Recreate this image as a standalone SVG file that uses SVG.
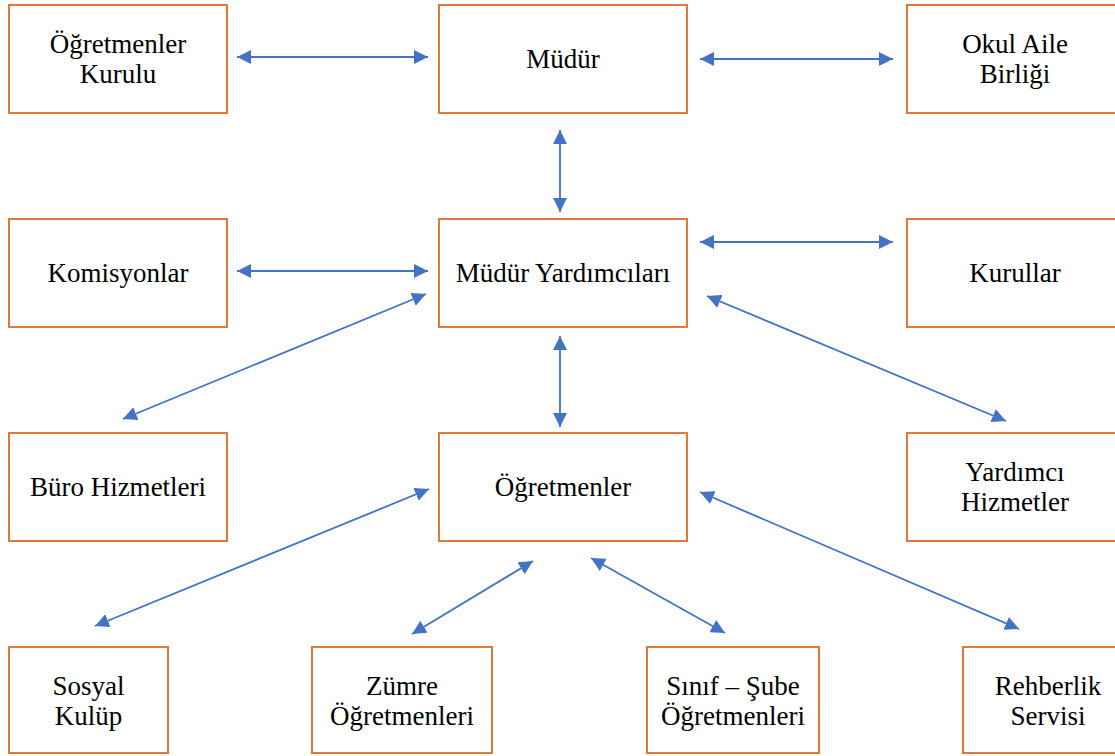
<svg xmlns="http://www.w3.org/2000/svg" width="1115" height="756" viewBox="0 0 1115 756">
<style>
.box{fill:#FFFFFF;stroke:#E0793A;stroke-width:2}
.t{font-family:'Liberation Serif','Times New Roman',serif;font-size:27px;fill:#000000;text-anchor:middle}
.c{stroke:#4472C4;stroke-width:1.8;fill:none;marker-start:url(#ah);marker-end:url(#ah)}
</style>
<defs>
<marker id="ah" viewBox="0 0 14 14" refX="14" refY="7" markerWidth="14" markerHeight="14" markerUnits="userSpaceOnUse" orient="auto-start-reverse">
<path d="M0,0 L14,7 L0,14 z" fill="#4472C4"/>
</marker>
</defs>
<rect width="1115" height="756" fill="#FFFFFF"/>
<g id="ogretmenler-kurulu"><rect class="box" x="9" y="5" width="218" height="108"/><text class="t" x="118" y="53">Öğretmenler</text><text class="t" x="118" y="83">Kurulu</text></g>
<g id="mudur"><rect class="box" x="439" y="5" width="248" height="108"/><text class="t" x="563" y="68">Müdür</text></g>
<g id="okul-aile-birligi"><rect class="box" x="907" y="5" width="216" height="108"/><text class="t" x="1015" y="53">Okul Aile</text><text class="t" x="1015" y="83">Birliği</text></g>

<g id="komisyonlar"><rect class="box" x="9" y="219" width="218" height="108"/><text class="t" x="118" y="282">Komisyonlar</text></g>
<g id="mudur-yardimcilari"><rect class="box" x="439" y="219" width="248" height="108"/><text class="t" x="563" y="282">Müdür Yardımcıları</text></g>
<g id="kurullar"><rect class="box" x="907" y="219" width="216" height="108"/><text class="t" x="1015" y="282">Kurullar</text></g>

<g id="buro-hizmetleri"><rect class="box" x="9" y="433" width="218" height="108"/><text class="t" x="118" y="496">Büro Hizmetleri</text></g>
<g id="ogretmenler"><rect class="box" x="439" y="433" width="248" height="108"/><text class="t" x="563" y="496">Öğretmenler</text></g>
<g id="yardimci-hizmetler"><rect class="box" x="907" y="433" width="216" height="108"/><text class="t" x="1015" y="481">Yardımcı</text><text class="t" x="1015" y="511">Hizmetler</text></g>

<g id="sosyal-kulup"><rect class="box" x="9" y="647" width="159" height="106"/><text class="t" x="88.5" y="695">Sosyal</text><text class="t" x="88.5" y="725">Kulüp</text></g>
<g id="zumre-ogretmenleri"><rect class="box" x="312" y="647" width="180" height="106"/><text class="t" x="402" y="695">Zümre</text><text class="t" x="402" y="725">Öğretmenleri</text></g>
<g id="sinif-sube-ogretmenleri"><rect class="box" x="647" y="647" width="172" height="106"/><text class="t" x="733" y="695">Sınıf – Şube</text><text class="t" x="733" y="725">Öğretmenleri</text></g>
<g id="rehberlik-servisi"><rect class="box" x="963" y="647" width="170" height="106"/><text class="t" x="1048" y="695">Rehberlik</text><text class="t" x="1048" y="725">Servisi</text></g>

<g id="connectors">
<line class="c" x1="237" y1="57" x2="428" y2="57"/>
<line class="c" x1="700" y1="59" x2="893" y2="59"/>
<line class="c" x1="560" y1="130" x2="560" y2="212"/>
<line class="c" x1="237" y1="271" x2="428" y2="271"/>
<line class="c" x1="700" y1="242" x2="893" y2="242"/>
<line class="c" x1="426" y1="294" x2="123" y2="419"/>
<line class="c" x1="560" y1="336" x2="560" y2="427"/>
<line class="c" x1="707" y1="296" x2="1006" y2="421"/>
<line class="c" x1="429" y1="489" x2="95" y2="626"/>
<line class="c" x1="533" y1="561" x2="412" y2="634"/>
<line class="c" x1="591" y1="558" x2="725" y2="633"/>
<line class="c" x1="700" y1="492" x2="1019" y2="629"/>
</g>
</svg>
